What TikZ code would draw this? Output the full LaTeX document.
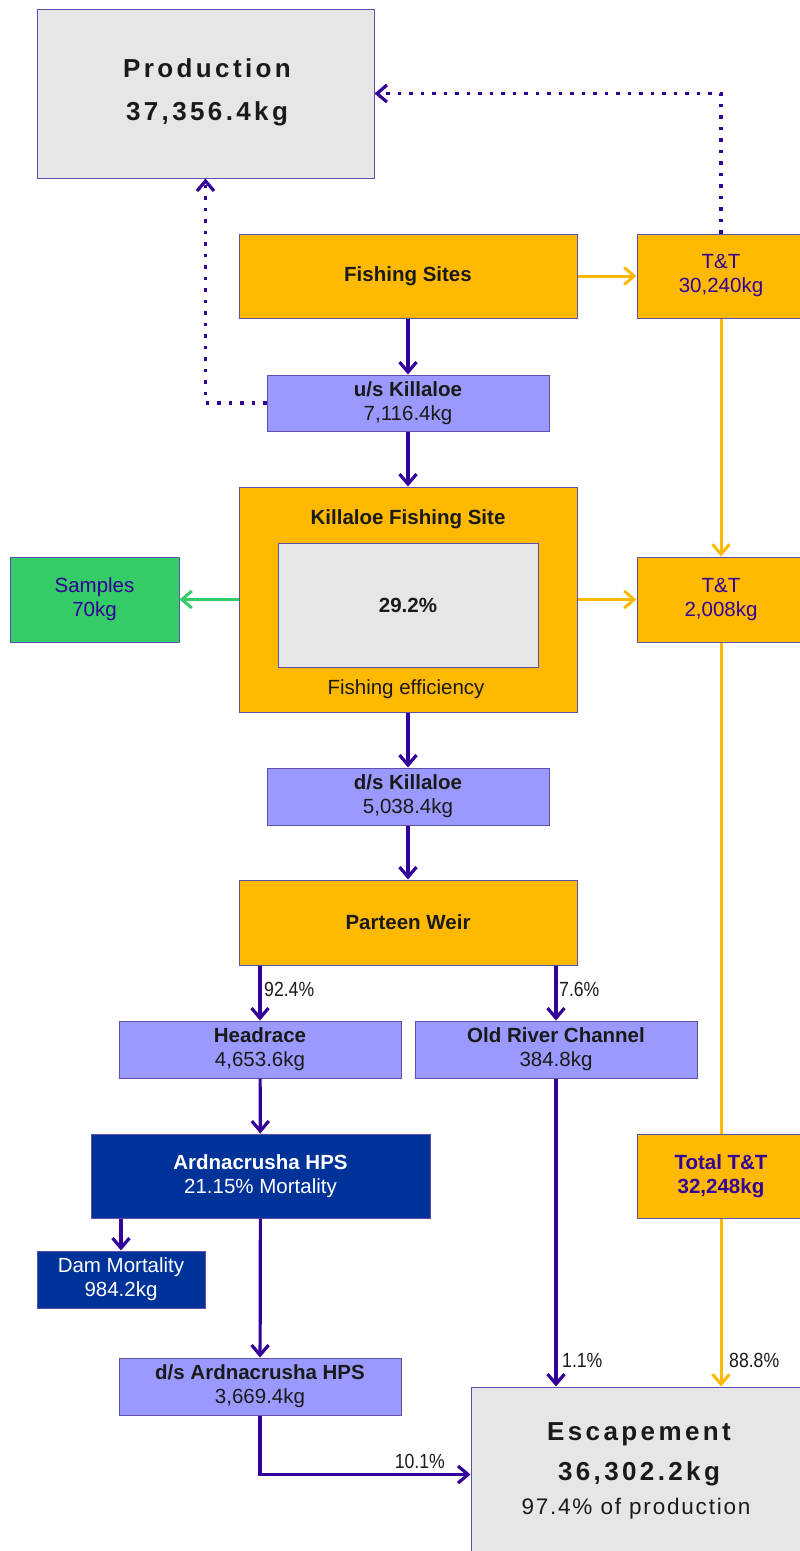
\documentclass[tikz,border=0pt]{standalone}
\usepackage{fontspec}
\setmainfont{Liberation Sans}
\newfontfamily\spacedb{Liberation Sans}[LetterSpace=13]
\newfontfamily\spacedr{Liberation Sans}[LetterSpace=8]
\newfontfamily\narrowf{Liberation Sans}[FakeStretch=0.86]
\usetikzlibrary{arrows.meta}
\definecolor{gold}{RGB}{254,185,0}
\definecolor{lav}{RGB}{153,153,255}
\definecolor{navy}{RGB}{0,51,153}
\definecolor{grn}{RGB}{51,204,102}
\definecolor{lgrey}{RGB}{230,230,230}
\definecolor{purp}{RGB}{51,0,153}
\definecolor{edge}{RGB}{95,80,175}
\definecolor{ink}{RGB}{26,26,26}
\tikzset{
  box/.style={draw=edge, line width=1pt, inner sep=0pt, align=center, text=ink,
    font=\fontsize{20.5}{24}\selectfont},
  txt/.style={inner sep=0pt, text=ink},
  tip/.style={-{Straight Barb[length=10pt,width=17pt]}},
  pa/.style={draw=purp, line width=3.2pt, tip},
  ga/.style={draw=gold, line width=3pt, tip},
  gra/.style={draw=grn, line width=3pt, tip},
  dots/.style={draw=purp, line width=3.2pt, dash pattern=on 3.5pt off 8pt, tip},
  lbl/.style={inner sep=0pt, text=ink, font=\narrowf\fontsize{20.5}{24}\selectfont}
}
\begin{document}
\begin{tikzpicture}[x=1pt,y=-1pt]
\useasboundingbox (0,0) rectangle (800,1551);
% boxes
\node[box, fill=lgrey, minimum width=337, minimum height=169] (prod) at (205.5,93.5) {};
\node[txt, font=\spacedb\bfseries\fontsize{26}{30}\selectfont] (prodt1) at (207,68) {Production};
\node[txt, font=\spacedb\bfseries\fontsize{26}{30}\selectfont] (prodt2) at (207,114) {37,356.4kg};

\node[box, fill=gold, minimum width=338, minimum height=84, font=\bfseries\fontsize{20.5}{24}\selectfont] (fs) at (408,276) {Fishing Sites};
\node[box, fill=gold, minimum width=168, minimum height=84, text=purp] (tt1) at (721,276) {T\&T\\30,240kg};
\node[box, fill=lav, minimum width=282, minimum height=56] (usk) at (408,403) {\textbf{u/s Killaloe}\\7,116.4kg};

\node[box, fill=gold, minimum width=338, minimum height=225] (kfs) at (408,599.5) {};
\node[txt, font=\bfseries\fontsize{20.5}{24}\selectfont] (kfst) at (408,519) {Killaloe Fishing Site};
\node[box, fill=lgrey, minimum width=260, minimum height=124, font=\bfseries\fontsize{20.5}{24}\selectfont] (eff) at (408,605) {29.2\%};
\node[txt, font=\fontsize{20.5}{24}\selectfont] (efft) at (406,689) {Fishing efficiency};

\node[box, fill=grn, minimum width=169, minimum height=85, text=purp] (smp) at (94.5,599.5) {Samples\\70kg};
\node[box, fill=gold, minimum width=168, minimum height=85, text=purp] (tt2) at (721,599.5) {T\&T\\2,008kg};

\node[box, fill=lav, minimum width=282, minimum height=57] (dsk) at (408,796.5) {\textbf{d/s Killaloe}\\5,038.4kg};
\node[box, fill=gold, minimum width=338, minimum height=85, font=\bfseries\fontsize{20.5}{24}\selectfont] (pw) at (408,922.5) {Parteen Weir};

\node[box, fill=lav, minimum width=282, minimum height=57] (hr) at (260,1049.5) {\textbf{Headrace}\\4,653.6kg};
\node[box, fill=lav, minimum width=282, minimum height=57] (orc) at (556,1049.5) {\textbf{Old River Channel}\\384.8kg};

\node[box, fill=navy, minimum width=339, minimum height=84, text=white] (ard) at (260.5,1176) {\textbf{Ardnacrusha HPS}\\21.15\% Mortality};
\node[box, fill=gold, minimum width=168, minimum height=84, text=purp, font=\bfseries\fontsize{20.5}{24}\selectfont] (tot) at (721,1176) {Total T\&T\\32,248kg};
\node[box, fill=navy, minimum width=168, minimum height=57, text=white] (dam) at (121,1279.5) {Dam Mortality\\984.2kg};
\node[box, fill=lav, minimum width=282, minimum height=57] (dsa) at (260,1386.5) {\textbf{d/s Ardnacrusha HPS}\\3,669.4kg};

\node[box, fill=lgrey, minimum width=339, minimum height=175] (esc) at (640.5,1474.5) {};
\node[txt, font=\spacedb\bfseries\fontsize{26}{30}\selectfont] (esct1) at (639,1434) {Escapement};
\node[txt, font=\spacedb\bfseries\fontsize{26}{30}\selectfont] (esct2) at (639,1474) {36,302.2kg};
\node[txt, font=\spacedr\fontsize{22.5}{26}\selectfont] (esct3) at (636,1509) {97.4\% of production};

% connectors
\draw[pa] (fs) -- (usk);
\draw[pa] (usk) -- (kfs);
\draw[pa] (kfs) -- (dsk);
\draw[pa] (dsk) -- (pw);
\draw[pa] (pw.south -| hr) -- (hr);
\draw[pa] (pw.south -| orc) -- (orc);
\draw[pa] (hr) -- (ard);
\draw[pa] (ard.south -| dam) -- (dam);
\draw[pa] (ard) -- (dsa);
\draw[pa] (orc) -- (orc |- esc.north);
\draw[pa] (dsa) |- (esc.west);
\draw[dots] (usk.west) -| (prod.south);
\draw[dots] (tt1.north) |- (prod.east);
\draw[ga] (fs) -- (tt1);
\draw[ga] (tt1) -- (tt2);
\draw[ga] (kfs.east |- tt2) -- (tt2);
\draw[gra] (kfs.west |- smp) -- (smp);
\draw[draw=gold, line width=3pt] (tt2) -- (tot);
\draw[ga] (tot) -- (tot |- esc.north);
% labels
\node[lbl, anchor=west] (l924) at (264,989) {92.4\%};
\node[lbl, anchor=west] (l76) at (559,989) {7.6\%};
\node[lbl, anchor=west] (l11) at (562,1360) {1.1\%};
\node[lbl, anchor=west] (l888) at (729,1360) {88.8\%};
\node[lbl, anchor=east] (l101) at (445,1461) {10.1\%};
\end{tikzpicture}
\end{document}
